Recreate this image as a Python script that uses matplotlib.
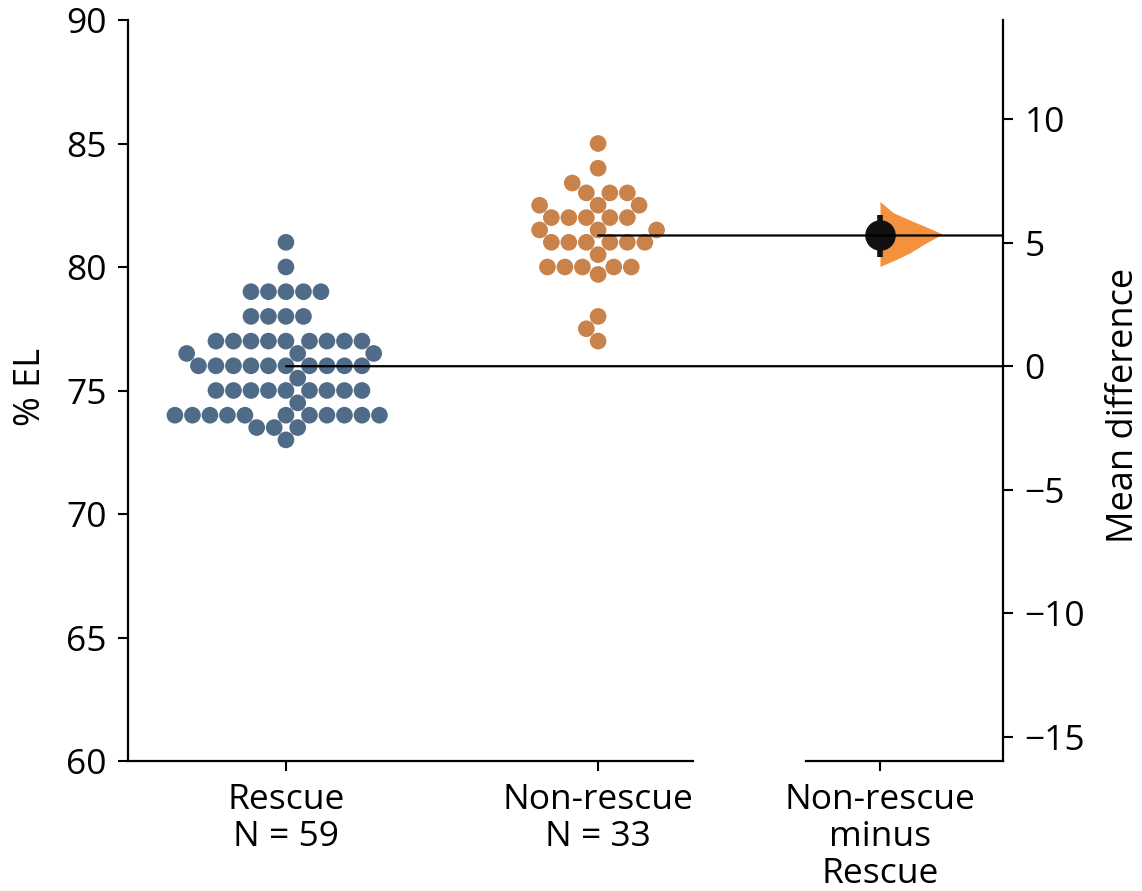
import numpy as np
import matplotlib
matplotlib.use("Agg")
import matplotlib.pyplot as plt
import seaborn as sns
from matplotlib.patches import ConnectionPatch

# ---------------- data ----------------
rescue_values = ([81.0, 80.0] + [79.0] * 5 + [78.0] * 4 + [77.0] * 9 + [76.5] * 3 +
                 [76.0] * 10 + [75.5] + [75.0] * 9 + [74.5] + [74.0] * 11 +
                 [73.5] * 3 + [73.0])
nonrescue_values = ([85.0, 84.0, 83.4] + [83.0] * 3 + [82.5] * 3 + [82.0] * 5 +
                    [81.5] * 3 + [81.0] * 6 + [80.5] + [80.0] * 5 + [79.7] +
                    [78.0, 77.5, 77.0])
group_names = ["Rescue", "Non-rescue"]
group_labels = ["Rescue\nN = 59", "Non-rescue\nN = 33"]
contrast_label = "Non-rescue\nminus\nRescue"

# bootstrap distribution outline & CI of mean difference
ci_low, ci_high = 4.42, 6.13
violin_diff = [4.04, 4.31, 4.59, 4.92, 5.35, 5.61, 5.86, 6.22, 6.67]
violin_width = [0.0, 0.25, 0.48, 0.69, 1.0, 0.77, 0.53, 0.21, 0.0]

left_ticks = [60, 65, 70, 75, 80, 85, 90]
right_ticks = [-15, -10, -5, 0, 5, 10]

col_rescue = "#4F6B88"
col_nonrescue = "#C9824A"
col_violin = "#F4913D"

# ---------------- figure ----------------
plt.rcParams['font.family'] = ['Open Sans', 'DejaVu Sans']
plt.rcParams['font.size'] = 25.5

fig = plt.figure(figsize=(11.42, 8.91), dpi=100)
ax1 = fig.add_axes([0.11208, 0.14590, 0.49475, 0.83165])
ax2 = fig.add_axes([0.70578, 0.14590, 0.17250, 0.83165])

ax1.set_xlim(-0.506, 1.304)
ax1.set_ylim(60, 90)

xs = ["Rescue"] * len(rescue_values) + ["Non-rescue"] * len(nonrescue_values)
ys = rescue_values + nonrescue_values
sns.swarmplot(x=xs, y=ys, hue=xs, order=group_names, hue_order=group_names,
              palette=[col_rescue, col_nonrescue], size=12, linewidth=0,
              legend=False, ax=ax1)
ax1.set_xlim(-0.506, 1.304)
ax1.set_ylim(60, 90)
ax1.set_xticks([0, 1])
ax1.set_xticklabels(group_labels, linespacing=1.15)
ax1.set_yticks(left_ticks)
ax1.set_ylabel("% EL", fontsize=26)
ax1.yaxis.set_label_coords(-0.14, 0.505)
for s in ["top", "right"]:
    ax1.spines[s].set_visible(False)
for s in ["left", "bottom"]:
    ax1.spines[s].set_linewidth(1.6)
ax1.tick_params(width=1.5, length=7.5, pad=8)

mean_r = float(np.mean(rescue_values))
mean_n = float(np.mean(nonrescue_values))
delta = mean_n - mean_r

# contrast axes
ax2.set_xlim(-0.237, 0.394)
ax2.set_ylim(60 - mean_r, 90 - mean_r)
ax2.fill_betweenx(violin_diff, 0, 0.2 * np.array(violin_width),
                  color=col_violin, linewidth=0, zorder=1)
ax2.vlines(0, ci_low, ci_high, color="#111111", linewidth=4, zorder=3)
ax2.plot([0], [delta], "o", color="#111111", markersize=21, zorder=4)
ax2.set_xticks([0])
ax2.set_xticklabels([contrast_label], linespacing=1.12)
ax2.set_yticks(right_ticks)
ax2.yaxis.tick_right()
ax2.yaxis.set_label_position("right")
ax2.set_ylabel("Mean difference", fontsize=26)
ax2.yaxis.set_label_coords(1.525, 0.48)
for s in ["top", "left"]:
    ax2.spines[s].set_visible(False)
for s in ["right", "bottom"]:
    ax2.spines[s].set_linewidth(1.6)
ax2.tick_params(width=1.5, length=7.5, pad=8)

# mean reference lines from each group to the contrast axis
for xi, m, d in [(0, mean_r, 0.0), (1, mean_n, delta)]:
    con = ConnectionPatch(xyA=(xi, m), coordsA=ax1.transData,
                          xyB=(1, d), coordsB=ax2.get_yaxis_transform(),
                          color="black", linewidth=1.6, zorder=5)
    fig.add_artist(con)

fig.savefig("out.png", dpi=100)
